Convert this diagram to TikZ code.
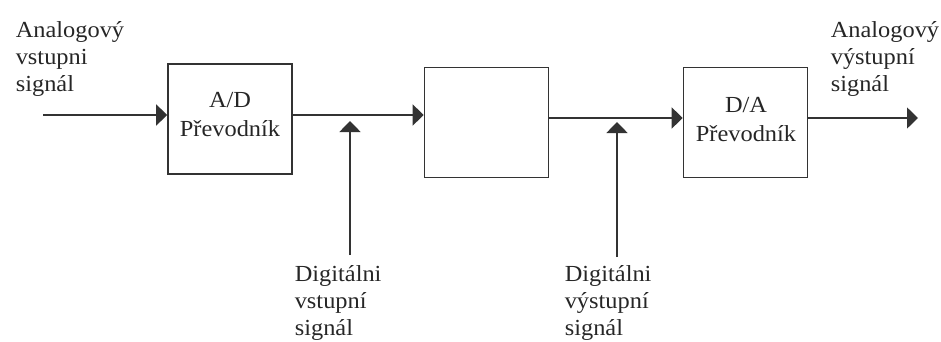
\documentclass[tikz,border=0pt]{standalone}
\usepackage{fontspec}
\setmainfont{Liberation Serif}[FakeStretch=1.06]
\usetikzlibrary{arrows.meta}
\begin{document}
\begin{tikzpicture}[x=1pt,y=-1pt,line width=1.6pt,
  box/.style={draw=black!80,minimum width=124pt,minimum height=110pt,inner sep=0pt},
  arr/.style={draw=black!80,-{Triangle[length=11pt,width=21pt]}},
  btxt/.style={font=\fontsize{23}{27}\selectfont,inner sep=0pt,text=black!85},
  lbl/.style={font=\fontsize{23}{27}\selectfont,inner sep=0pt,align=left,anchor=north west,text=black!85}]
\useasboundingbox (0,0) rectangle (941,342);
% boxes
\node[box] (b1) at (230,119) {};
\node[box] (b2) at (486.5,122.5) {};
\node[box] (b3) at (745.5,122.5) {};
% box texts
\node[btxt,anchor=base] (t1a) at (230,108) {A/D};
\node[btxt,anchor=base] (t1b) at (230,136) {Převodník};
\node[btxt,anchor=base] (t3a) at (746,113) {D/A};
\node[btxt,anchor=base] (t3b) at (746,141) {Převodník};
% coordinates
\coordinate (in) at (43,115);
\coordinate (out) at (918,118);
\coordinate (d1s) at (350,255);
\coordinate (d1e) at (350,121);
\coordinate (d2s) at (617,257);
\coordinate (d2e) at (617,122);
% connectors
\draw[arr] (in) -- (in -| b1.west);
\draw[arr] (b1.east |- in) -- (b2.west |- in);
\draw[arr] (b2.east |- out) -- (b3.west |- out);
\draw[arr] (b3.east |- out) -- (out);
\draw[arr] (d1s) -- (d1e);
\draw[arr] (d2s) -- (d2e);
% labels
\node[lbl] (lin) at (15,21) {Analogový\\vstupni\\signál};
\node[lbl] (lout) at (830,21) {Analogový\\výstupní\\signál};
\node[lbl] (ld1) at (294,264.5) {Digitálni\\vstupní\\signál};
\node[lbl] (ld2) at (564,265) {Digitálni\\výstupní\\signál};
\end{tikzpicture}
\end{document}
